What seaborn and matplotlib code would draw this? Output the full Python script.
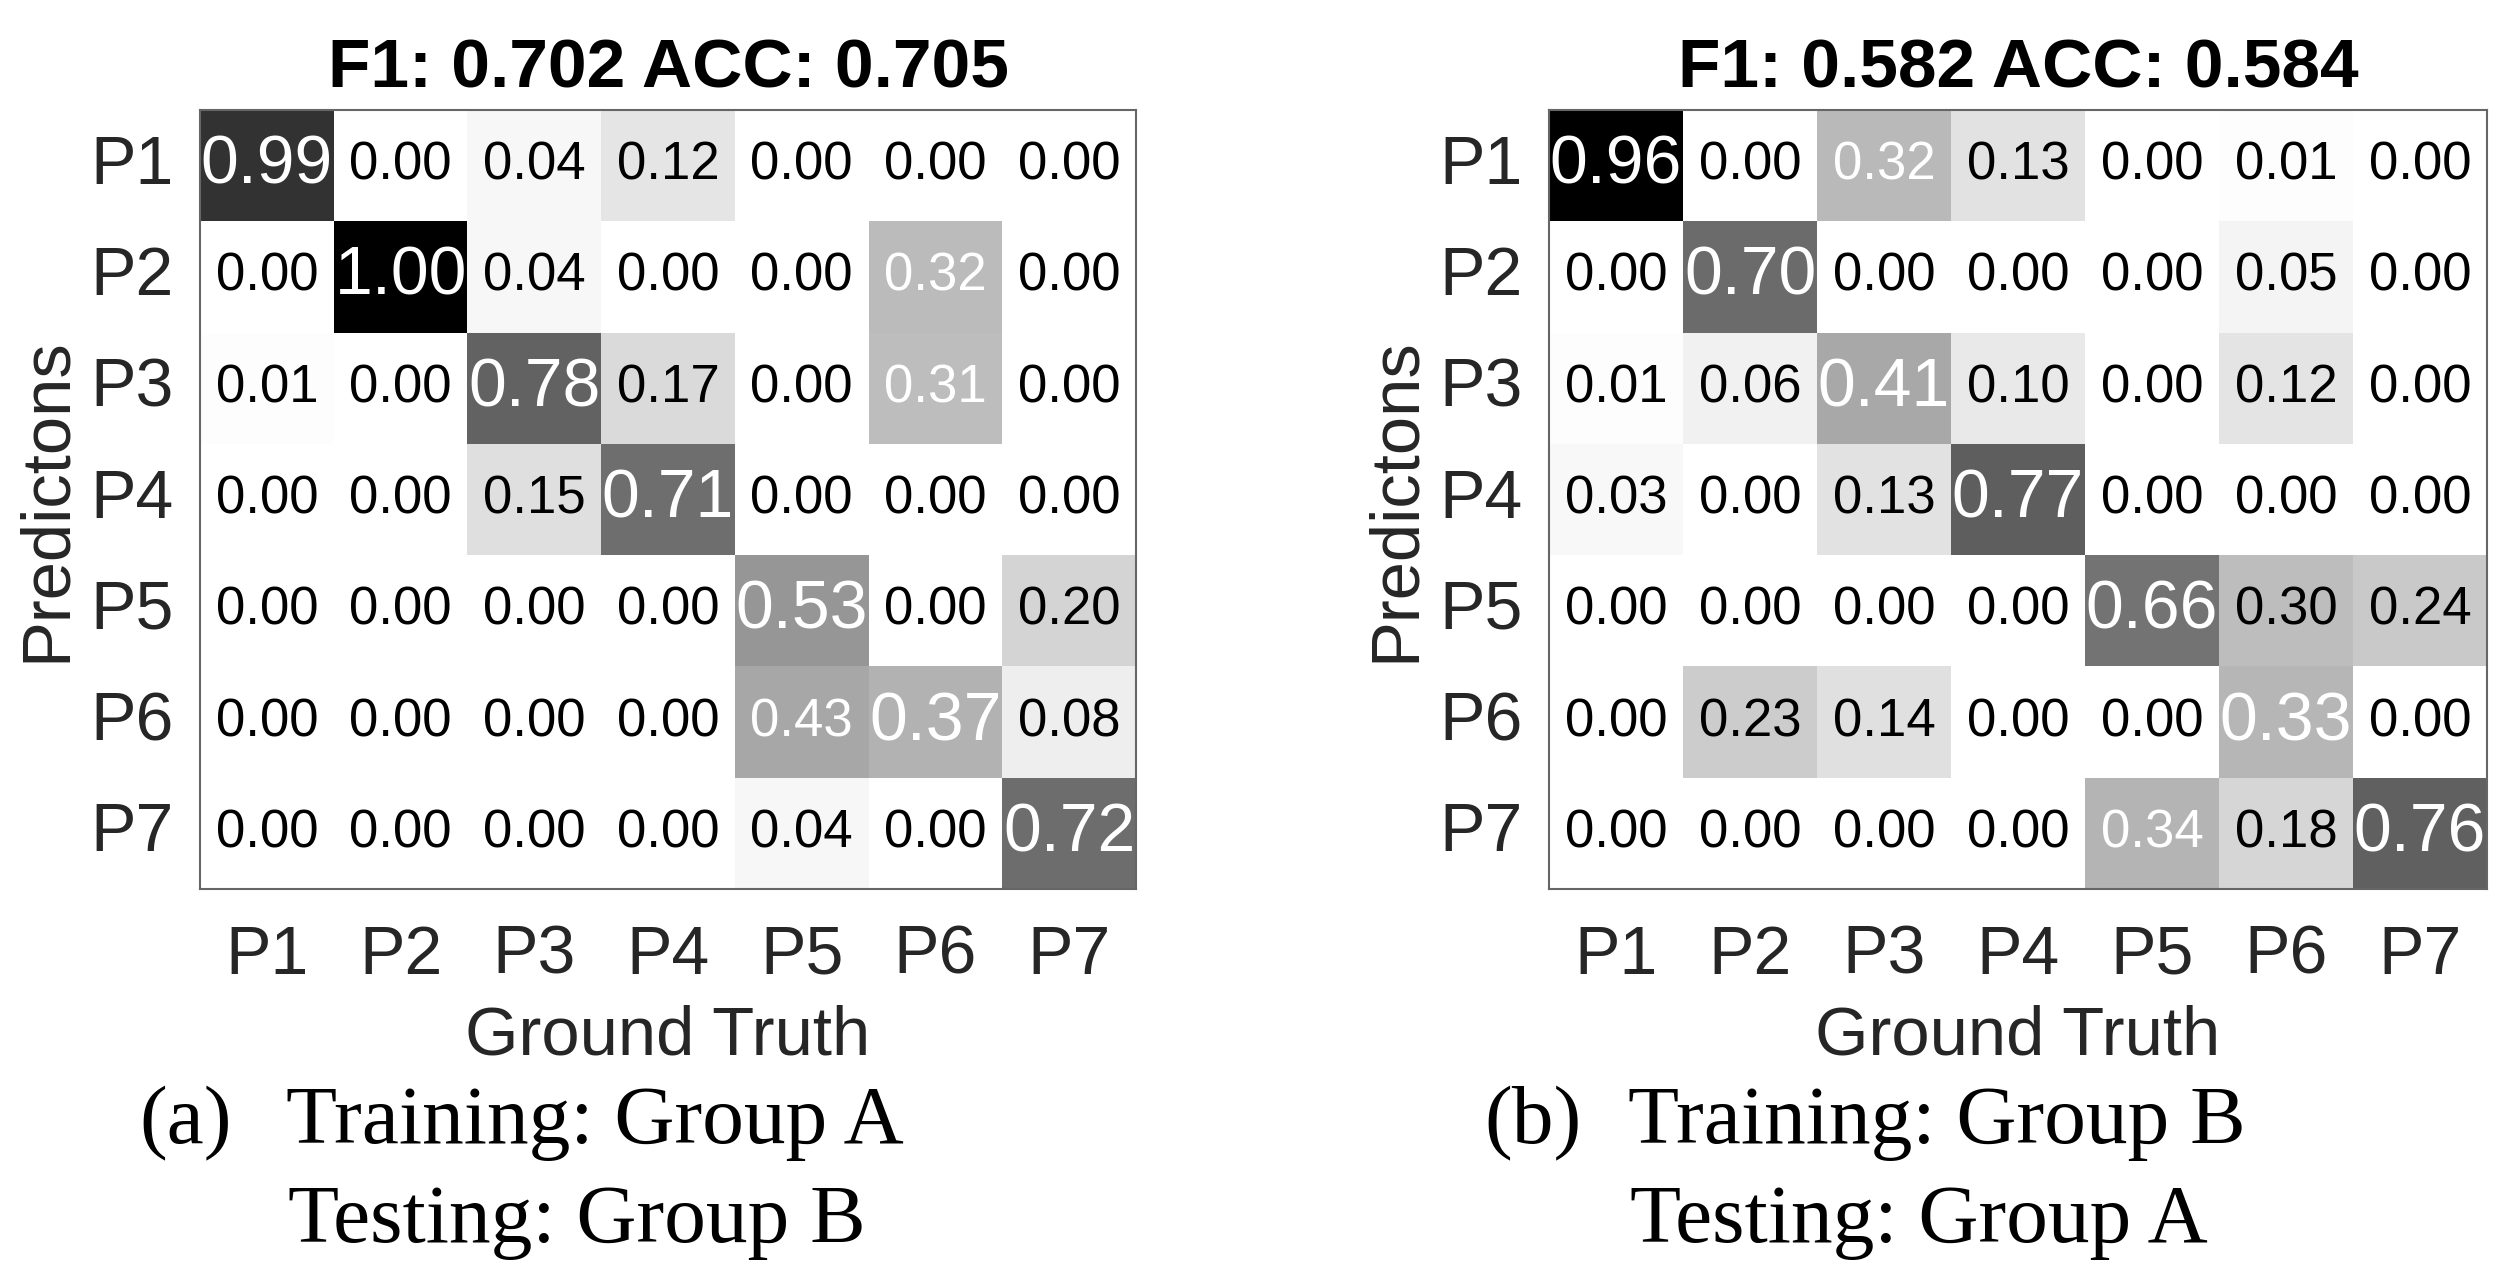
import numpy as np
import pandas as pd
import matplotlib
matplotlib.use("Agg")
import matplotlib.pyplot as plt
import seaborn as sns
from matplotlib.colors import LinearSegmentedColormap

# ---------------- data ----------------
labels = ["P1", "P2", "P3", "P4", "P5", "P6", "P7"]

cm_a = [
    [0.99, 0.00, 0.04, 0.12, 0.00, 0.00, 0.00],
    [0.00, 1.00, 0.04, 0.00, 0.00, 0.32, 0.00],
    [0.01, 0.00, 0.78, 0.17, 0.00, 0.31, 0.00],
    [0.00, 0.00, 0.15, 0.71, 0.00, 0.00, 0.00],
    [0.00, 0.00, 0.00, 0.00, 0.53, 0.00, 0.20],
    [0.00, 0.00, 0.00, 0.00, 0.43, 0.37, 0.08],
    [0.00, 0.00, 0.00, 0.00, 0.04, 0.00, 0.72],
]
cm_b = [
    [0.96, 0.00, 0.32, 0.13, 0.00, 0.01, 0.00],
    [0.00, 0.70, 0.00, 0.00, 0.00, 0.05, 0.00],
    [0.01, 0.06, 0.41, 0.10, 0.00, 0.12, 0.00],
    [0.03, 0.00, 0.13, 0.77, 0.00, 0.00, 0.00],
    [0.00, 0.00, 0.00, 0.00, 0.66, 0.30, 0.24],
    [0.00, 0.23, 0.14, 0.00, 0.00, 0.33, 0.00],
    [0.00, 0.00, 0.00, 0.00, 0.34, 0.18, 0.76],
]
title_a = "F1: 0.702 ACC: 0.705"
title_b = "F1: 0.582 ACC: 0.584"
caption_a = ["(a)", "Training: Group A", "Testing: Group B"]
caption_b = ["(b)", "Training: Group B", "Testing: Group A"]
xlabel = "Ground Truth"
ylabel = "Predictons"

# ---------------- style ----------------
sns.set_theme(style="white")
plt.rcParams["font.family"] = ["Liberation Sans", "DejaVu Sans"]

anchors = [(0.0, 0.0), (0.2, 0.17), (0.35, 0.29), (0.53, 0.41), (0.7, 0.56),
           (0.8, 0.63), (0.99, 0.80), (1.0, 1.0)]
cmap = LinearSegmentedColormap.from_list(
    "grays_cm", [(x, (1 - d, 1 - d, 1 - d)) for x, d in anchors], N=512)

W, H = 2506, 1272
fig = plt.figure(figsize=(W / 100, H / 100), dpi=100)
axA = fig.add_axes([200 / W, 1 - 889 / H, 936 / W, 779 / H])
axB = fig.add_axes([1549 / W, 1 - 889 / H, 938 / W, 779 / H])

TXT = "#262626"


def draw(ax, mat, title):
    df = pd.DataFrame(mat, index=labels, columns=labels)
    sns.heatmap(df, ax=ax, cmap=cmap, vmin=0, vmax=float(df.values.max()),
                cbar=False, annot=True, fmt=".2f",
                annot_kws={"fontsize": 38})
    for t in ax.texts:
        x, y = t.get_position()
        i, j = int(y), int(x)
        v = float(t.get_text())
        if i == j:
            t.set_fontsize(49)
            t.set_color("white")
        elif v > 0.305:
            t.set_color("white")
        else:
            t.set_color("black")
    for s in ax.spines.values():
        s.set_visible(True)
        s.set_color("#666666")
        s.set_linewidth(1.5)
    ax.tick_params(direction="in", length=7, width=1.2, color="#555555",
                   top=True, right=True, bottom=True, left=True,
                   labelsize=49, labelcolor=TXT)
    ax.tick_params(axis="x", pad=25, labelrotation=0)
    ax.tick_params(axis="y", pad=19, labelrotation=0)
    ax.set_title(title, fontsize=50, fontweight="bold", pad=16, color="black")
    ax.set_xlabel(xlabel, fontsize=49.5, color=TXT, labelpad=12)
    ax.set_ylabel(ylabel, fontsize=49.5, color=TXT, labelpad=8)


draw(axA, cm_a, title_a)
draw(axB, cm_b, title_b)

serif = ["Liberation Serif", "DejaVu Serif"]
for cap, x0, x1 in [(caption_a, 139, 286), (caption_b, 1484, 1628)]:
    fig.text(x0 / W, 1 - 1143 / H, cap[0], fontsize=60, family=serif,
             va="baseline", ha="left", color="black")
    fig.text(x1 / W, 1 - 1143 / H, cap[1], fontsize=60, family=serif,
             va="baseline", ha="left", color="black")
    fig.text((x1 + 2) / W, 1 - 1242 / H, cap[2], fontsize=60, family=serif,
             va="baseline", ha="left", color="black")

fig.savefig("out.png", dpi=100)
